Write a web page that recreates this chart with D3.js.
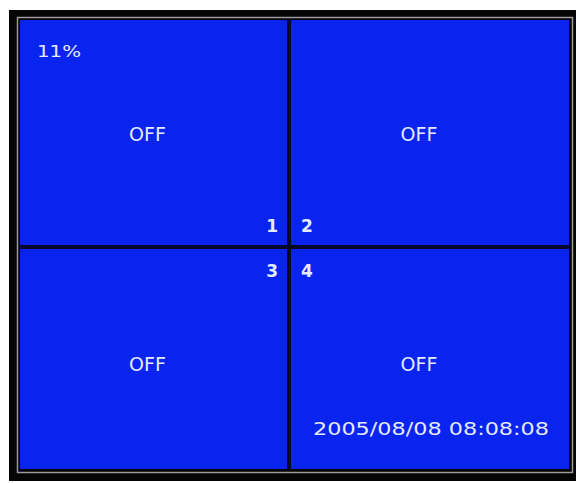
<!DOCTYPE html>
<html>
<head>
<meta charset="utf-8">
<script src="https://cdn.jsdelivr.net/npm/d3@7"></script>
<style>
  body { margin: 0; background: #fff; }
  svg { display: block; }
</style>
</head>
<body>
<svg id="chart"></svg>
<script>
// quad view data
const channels = [1, 2, 3, 4];
const statuses = ["OFF", "OFF", "OFF", "OFF"];
const cols = [0, 1, 0, 1];
const rows = [0, 0, 1, 1];
const usage = "11%";
const timestamp = "2005/08/08 08:08:08";

const width = 582, height = 483;
const svg = d3.select("#chart").attr("width", width).attr("height", height);

// piecewise scales: outer edge, divider, outer edge
const x = d3.scaleLinear().domain([0, 1, 2]).range([20, 289, 569]);
const y = d3.scaleLinear().domain([0, 1, 2]).range([20, 247, 469]);
const gap = 2;

// frame
svg.append("rect").attr("x", 9).attr("y", 10).attr("width", 567).attr("height", 471).attr("fill", "#050505");
svg.append("rect").attr("x", 17.5).attr("y", 17.5).attr("width", 555).attr("height", 455)
  .attr("fill", "none").attr("stroke", "#9a9aa0").attr("stroke-width", 1.5);
svg.append("rect").attr("x", x(0)).attr("y", y(0)).attr("width", x(2) - x(0)).attr("height", y(2) - y(0)).attr("fill", "#06082a");

const g = svg.append("g");
const cx0 = i => x(cols[i]) + (cols[i] ? gap : 0);
const cx1 = i => x(cols[i] + 1) - (cols[i] ? 0 : gap);
const cy0 = i => y(rows[i]) + (rows[i] ? gap : 0);
const cy1 = i => y(rows[i] + 1) - (rows[i] ? 0 : gap);

g.selectAll("rect.cell")
  .data(channels)
  .join("rect")
  .attr("class", "cell")
  .attr("x", (d, i) => cx0(i))
  .attr("y", (d, i) => cy0(i))
  .attr("width", (d, i) => cx1(i) - cx0(i))
  .attr("height", (d, i) => cy1(i) - cy0(i))
  .attr("fill", "#0a24f0");

const font = "'DejaVu Sans', sans-serif";
const txtColor = "#e4eaff";

g.selectAll("text.status")
  .data(statuses)
  .join("text")
  .attr("class", "status")
  .attr("x", (d, i) => (cx0(i) + cx1(i)) / 2 + (cols[i] ? -11 : -6))
  .attr("y", (d, i) => (cy0(i) + cy1(i)) / 2 + (rows[i] ? 12 : 8))
  .attr("text-anchor", "middle")
  .attr("font-family", font)
  .attr("font-size", 19)
  .attr("fill", txtColor)
  .text(d => d);

g.selectAll("text.ch")
  .data(channels)
  .join("text")
  .attr("class", "ch")
  .attr("x", (d, i) => cols[i] ? x(1) + 12 : x(1) - 11)
  .attr("y", (d, i) => rows[i] ? y(1) + 30 : y(1) - 15)
  .attr("text-anchor", (d, i) => cols[i] ? "start" : "end")
  .attr("font-family", font)
  .attr("font-weight", "bold")
  .attr("font-size", 17)
  .attr("fill", txtColor)
  .text(d => d);

g.append("text")
  .attr("x", 37).attr("y", 57)
  .attr("font-family", font)
  .attr("font-size", 16)
  .attr("textLength", 44)
  .attr("lengthAdjust", "spacingAndGlyphs")
  .attr("fill", txtColor)
  .text(usage);

g.append("text")
  .attr("x", 313).attr("y", 435)
  .attr("font-family", font)
  .attr("font-size", 18)
  .attr("textLength", 236)
  .attr("lengthAdjust", "spacingAndGlyphs")
  .attr("fill", txtColor)
  .text(timestamp);
</script>
</body>
</html>
